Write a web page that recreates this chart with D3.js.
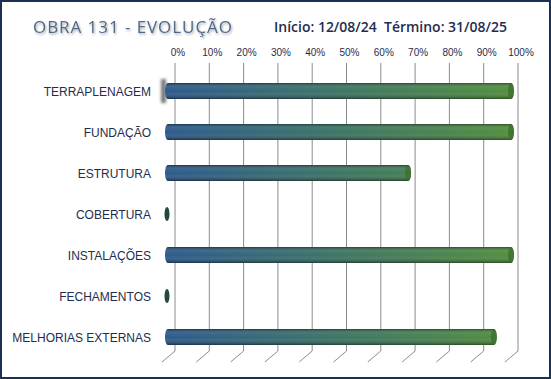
<!DOCTYPE html>
<html>
<head>
<meta charset="utf-8">
<script src="https://cdn.jsdelivr.net/npm/d3@7"></script>
<style>
  body { margin: 0; background: #fff; }
  svg { display: block; }
</style>
</head>
<body>
<div id="chart"></div>
<script>
// Chart data
const categories = ["TERRAPLENAGEM", "FUNDAÇÃO", "ESTRUTURA", "COBERTURA", "INSTALAÇÕES", "FECHAMENTOS", "MELHORIAS EXTERNAS"];
const progress = [1.0, 1.0, 0.70, 0, 1.0, 0, 0.95];
const tickValues = [0, 0.1, 0.2, 0.3, 0.4, 0.5, 0.6, 0.7, 0.8, 0.9, 1.0];
const titleText = "OBRA 131 - EVOLUÇÃO";
const datesText = "Início: 12/08/24  Término: 31/08/25";

const width = 551, height = 379;

const svg = d3.select("#chart")
    .append("svg")
    .attr("width", width)
    .attr("height", height);

const defs = svg.append("defs");

// horizontal blue -> green gradient
const hGrad = defs.append("linearGradient")
    .attr("id", "hgrad")
    .attr("gradientUnits", "userSpaceOnUse")
    .attr("x1", 165).attr("x2", 514).attr("y1", 0).attr("y2", 0);
hGrad.append("stop").attr("offset", "0%").attr("stop-color", "#255489");
hGrad.append("stop").attr("offset", "50%").attr("stop-color", "#36705f");
hGrad.append("stop").attr("offset", "100%").attr("stop-color", "#4c8b37");

// vertical shading for the cylinder look
const vGrad = defs.append("linearGradient")
    .attr("id", "vgrad")
    .attr("x1", 0).attr("x2", 0).attr("y1", 0).attr("y2", 1);
vGrad.append("stop").attr("offset", "0%").attr("stop-color", "#000").attr("stop-opacity", 0.4);
vGrad.append("stop").attr("offset", "30%").attr("stop-color", "#fff").attr("stop-opacity", 0.08);
vGrad.append("stop").attr("offset", "55%").attr("stop-color", "#fff").attr("stop-opacity", 0.04);
vGrad.append("stop").attr("offset", "100%").attr("stop-color", "#000").attr("stop-opacity", 0.42);

const blur = defs.append("filter").attr("id", "blur")
    .attr("x", "-50%").attr("y", "-50%").attr("width", "200%").attr("height", "200%");
blur.append("feGaussianBlur").attr("stdDeviation", 1.5);

const tshadow = defs.append("filter").attr("id", "tshadow")
    .attr("x", "-10%").attr("y", "-30%").attr("width", "120%").attr("height", "160%");
tshadow.append("feDropShadow")
    .attr("dx", 1).attr("dy", 1.5).attr("stdDeviation", 1)
    .attr("flood-color", "#000").attr("flood-opacity", 0.35);

// Scales
const xBack = d3.scaleLinear().domain([0, 1]).range([175, 518]);
const xBar = d3.scaleLinear().domain([0, 1]).range([168, 511]);
const y = d3.scalePoint().domain(categories).range([70.5, 357.5]).padding(0.5);
const barH = 16;

// Gridlines with 3D floor slant
const grid = svg.append("g");
tickValues.forEach(v => {
    const gx = xBack(v);
    grid.append("path")
        .attr("d", `M${gx},63 V351 L${gx - 13},362`)
        .attr("fill", "none")
        .attr("stroke", "#8c8c8c")
        .attr("stroke-width", 1);
});

// Top axis labels
svg.append("g")
    .selectAll("text")
    .data(tickValues)
    .enter()
    .append("text")
    .attr("x", d => xBack(d) + 3)
    .attr("y", 56)
    .attr("text-anchor", "middle")
    .attr("font-family", "Liberation Sans, Arial, sans-serif")
    .attr("font-size", 10)
    .attr("fill", "#1f2d4f")
    .text(d3.format(".0%"));

// Category labels
svg.append("g")
    .selectAll("text")
    .data(categories)
    .enter()
    .append("text")
    .attr("x", 151)
    .attr("y", d => y(d) + 4.5)
    .attr("text-anchor", "end")
    .attr("font-family", "Liberation Sans, Arial, sans-serif")
    .attr("font-size", 12)
    .attr("fill", "#1f2d4f")
    .text(d => d);

// Shadow behind first bar's left end
svg.append("rect")
    .attr("x", 161).attr("y", y(categories[0]) - 12)
    .attr("width", 5).attr("height", 24)
    .attr("fill", "#777")
    .attr("filter", "url(#blur)");

// Bars
const bars = svg.append("g")
    .selectAll("g")
    .data(categories.map((c, i) => ({cat: c, val: progress[i]})))
    .enter()
    .append("g");

bars.each(function(d) {
    const g = d3.select(this);
    const cy = y(d.cat);
    if (d.val <= 0) {
        g.append("ellipse")
            .attr("cx", 167).attr("cy", cy)
            .attr("rx", 2.5).attr("ry", 7)
            .attr("fill", "#24483c");
        return;
    }
    const x1 = xBar(d.val);
    g.append("rect")
        .attr("x", 165).attr("y", cy - barH / 2)
        .attr("width", x1 + 3 - 165).attr("height", barH)
        .attr("rx", 3).attr("ry", 8)
        .attr("fill", "url(#hgrad)");
    g.append("rect")
        .attr("x", 165).attr("y", cy - barH / 2)
        .attr("width", x1 + 3 - 165).attr("height", barH)
        .attr("rx", 3).attr("ry", 8)
        .attr("fill", "url(#vgrad)");
    // end cap
    g.append("ellipse")
        .attr("cx", x1).attr("cy", cy)
        .attr("rx", 3).attr("ry", barH / 2 - 0.5)
        .attr("fill", "#3d6f2c")
        .attr("opacity", 0.8);
});

// Title
svg.append("text")
    .attr("x", 33)
    .attr("y", 33)
    .attr("font-family", "Open Sans, Liberation Sans, sans-serif")
    .attr("font-size", 17)
    .attr("textLength", 199)
    .attr("lengthAdjust", "spacing")
    .attr("fill", "#50698a")
    .attr("filter", "url(#tshadow)")
    .text(titleText);

svg.append("text")
    .attr("x", 274)
    .attr("y", 32)
    .attr("font-family", "Open Sans, Liberation Sans, sans-serif")
    .attr("font-size", 15)
    .attr("font-weight", 600)
    .attr("textLength", 233)
    .attr("lengthAdjust", "spacingAndGlyphs")
    .attr("fill", "#1f2d4f")
    .style("white-space", "pre")
    .text(datesText);

// Outer border
svg.append("rect")
    .attr("x", 1).attr("y", 1)
    .attr("width", width - 2).attr("height", height - 2)
    .attr("fill", "none")
    .attr("stroke", "#1c3152")
    .attr("stroke-width", 2);
</script>
</body>
</html>
